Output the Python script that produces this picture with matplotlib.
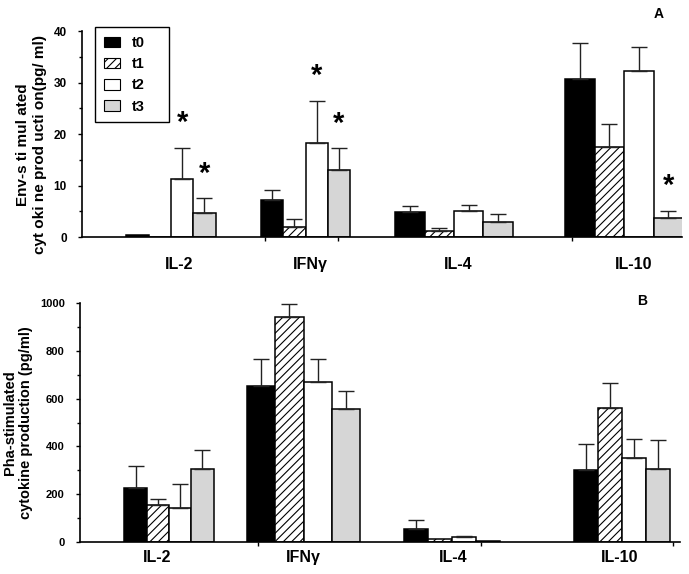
import numpy as np
import matplotlib
matplotlib.use("Agg")
import matplotlib.pyplot as plt
from matplotlib.patches import Patch

plt.rcParams["font.family"] = ["Liberation Sans", "DejaVu Sans"]
plt.rcParams["font.weight"] = "bold"
plt.rcParams["hatch.linewidth"] = 0.8

cytokines = ["IL-2", "IFN\u03b3", "IL-4", "IL-10"]
series = ["t0", "t1", "t2", "t3"]

# panel A: Env-stimulated (pg/ml), rows = cytokine, cols = t0..t3
env_mean = np.array([[0.3, 0.0, 11.2, 4.7],
                     [7.2, 2.0, 18.3, 13.1],
                     [4.9, 1.1, 5.1, 2.9],
                     [30.7, 17.5, 32.3, 3.6]])
env_top = np.array([[np.nan, np.nan, 17.3, 7.5],
                    [9.1, 3.4, 26.5, 17.2],
                    [6.1, 1.7, 6.3, 4.5],
                    [37.7, 21.9, 36.9, 5.1]])
env_stars = [(0, 2), (0, 3), (1, 2), (1, 3), (3, 3)]

# panel B: Pha-stimulated (pg/ml)
pha_mean = np.array([[225, 155, 142, 305],
                     [653, 941, 669, 555],
                     [55, 13, 21, 4],
                     [301, 560, 352, 305]])
pha_top = np.array([[318, 180, 243, 385],
                    [766, 996, 766, 632],
                    [90, np.nan, 24, np.nan],
                    [410, 665, 431, 427]])

# layout (axes x units ~ pixels from the y axis)
group_x = [89, 223.5, 372, 542]
width_a = [22.3, 22.3, 29.3, 29.5]
width_b = [22.3, 28.3, 24.0, 24.0]
label_dx_a = [8, 5, 4, 10]
label_dx_b = [-12, 0, 1, -2]
styles = [dict(color="black"),
          dict(color="white", hatch="////"),
          dict(color="white"),
          dict(color="#d6d6d6")]

fig = plt.figure(figsize=(6.89, 5.74), dpi=100)
W, H = 689, 574
ax_a = fig.add_axes([82 / W, (H - 237) / H, 600 / W, 206 / H])
ax_b = fig.add_axes([80 / W, (H - 542) / H, 600 / W, 239 / H])


def draw(ax, mean, top, widths):
    for g, gx in enumerate(group_x):
        w = widths[g]
        for s in range(4):
            x = gx + (s - 1.5) * w
            ax.bar(x, mean[g, s], width=w, edgecolor="black", linewidth=1.1,
                   zorder=2, **styles[s])
            if not np.isnan(top[g, s]):
                ax.errorbar(x, mean[g, s], yerr=[[0], [top[g, s] - mean[g, s]]],
                            fmt="none", ecolor="#222222", elinewidth=1.0,
                            capsize=6, capthick=1.0, zorder=3)
    ax.set_xlim(0, 600)
    for sp in ("top", "right"):
        ax.spines[sp].set_visible(False)
    for sp in ("left", "bottom"):
        ax.spines[sp].set_linewidth(1.2)
    ax.tick_params(axis="y", which="major", length=3, width=1, pad=8)
    ax.tick_params(axis="y", which="minor", length=2.5, width=1)
    ax.tick_params(axis="x", length=3, width=1)
    ax.set_xticklabels([])


draw(ax_a, env_mean, env_top, width_a)
ax_a.set_ylim(0, 40)
ax_a.set_yticks([0, 10, 20, 30, 40])
ax_a.set_yticks(np.arange(5, 40, 10), minor=True)
ax_a.tick_params(axis="y", labelsize=8.5)
ax_a.set_xticks([183, 256, 490])
ax_a.set_xticklabels([])
for g, s in env_stars:
    x = group_x[g] + (s - 1.5) * width_a[g]
    ax_a.text(x, env_top[g, s] + 4.8, "*", ha="center", va="center",
              fontsize=21, fontweight="bold")
for g, name in enumerate(cytokines):
    ax_a.text(group_x[g] + label_dx_a[g], -5.3, name, ha="center", va="center",
              fontsize=11.5, fontweight="bold")
ax_a.set_ylabel("Env-s ti mul ated\ncyt oki ne prod ucti on(pg/ ml)",
                fontsize=11, fontweight="bold", labelpad=5, linespacing=1.25)
ax_a.yaxis.label.set_y(0.45)
ax_a.text(577, 43.3, "A", ha="center", va="center", fontsize=10,
          fontweight="bold", clip_on=False)

handles = [Patch(facecolor=st["color"], hatch=st.get("hatch"),
                 edgecolor="black", linewidth=0.8) for st in styles]
leg = ax_a.legend(handles, series, loc="upper left",
                  bbox_to_anchor=(0.0217, 1.019 - 0.47, 0.1233, 0.47),
                  mode="expand", borderaxespad=0,
                  prop={"weight": "bold", "size": 10.5},
                  handlelength=1.1, handleheight=0.72, handletextpad=0.8,
                  labelspacing=0.5, borderpad=0.6, fancybox=False,
                  framealpha=1, edgecolor="black")
leg.get_frame().set_linewidth(1.0)

draw(ax_b, pha_mean, pha_top, width_b)
ax_b.set_ylim(0, 1000)
ax_b.set_yticks([0, 200, 400, 600, 800, 1000])
ax_b.set_yticks(np.arange(100, 1000, 200), minor=True)
ax_b.tick_params(axis="y", labelsize=8)
ax_b.set_xticks([178, 401, 593])
ax_b.set_xticklabels([])
for g, name in enumerate(cytokines):
    ax_b.text(group_x[g] + label_dx_b[g], -63, name, ha="center", va="center",
              fontsize=11.5, fontweight="bold")
ax_b.set_ylabel("Pha-stimulated\ncytokine production (pg/ml)",
                fontsize=10.5, fontweight="bold", labelpad=5, linespacing=1.2)
ax_b.text(562, 1010, "B", ha="center", va="center", fontsize=10,
          fontweight="bold", clip_on=False)

fig.savefig("out.png", dpi=100)
